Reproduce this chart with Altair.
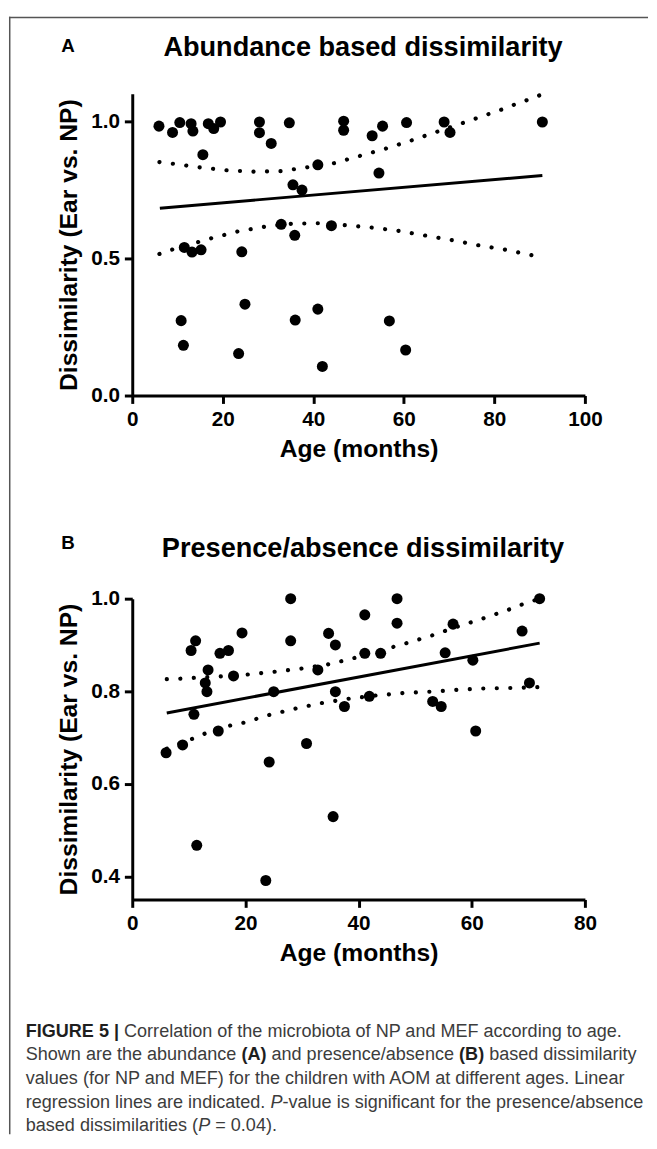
import altair as alt
import pandas as pd

# ---------------- Panel A: abundance based dissimilarity ----------------
a_age = [5.9, 8.9, 10.5, 13.0, 13.4, 15.6, 16.8, 18.0, 19.5, 28.1, 28.1, 30.7, 34.7,
         46.7, 46.7, 53.0, 55.3, 60.6, 68.9, 70.2, 90.6, 41.0, 54.5, 35.5, 37.5, 32.9,
         35.9, 44.0, 11.5, 13.2, 15.2, 24.2, 24.9, 10.8, 11.3, 23.5, 36.0, 41.0, 56.8,
         60.4, 42.0]
a_dis = [0.982, 0.959, 0.995, 0.991, 0.964, 0.878, 0.991, 0.973, 0.997, 0.997, 0.958,
         0.919, 0.994, 1.0, 0.967, 0.947, 0.982, 0.995, 0.997, 0.959, 0.997, 0.841,
         0.811, 0.768, 0.749, 0.624, 0.584, 0.619, 0.540, 0.523, 0.531, 0.524, 0.333,
         0.273, 0.183, 0.153, 0.275, 0.315, 0.272, 0.166, 0.106]
a_fit_age = [6.1, 90.6]
a_fit = [0.683, 0.802]
a_up_age = [6.0, 8.9, 14.8, 20.9, 26.8, 32.8, 38.7, 44.6, 50.4, 56.2, 61.9, 67.6, 73.3,
            78.9, 81.7, 84.5, 87.4, 90.6]
a_up = [0.851, 0.845, 0.832, 0.821, 0.816, 0.818, 0.832, 0.847, 0.874, 0.901, 0.931,
        0.963, 0.995, 1.027, 1.043, 1.061, 1.078, 1.098]
a_lo_age = [6.0, 8.8, 17.4, 23.3, 29.2, 35.1, 41.1, 47.1, 53.1, 58.9, 64.8, 70.8, 76.7,
            82.6, 88.4, 90.6]
a_lo = [0.516, 0.532, 0.573, 0.598, 0.615, 0.626, 0.628, 0.621, 0.612, 0.600, 0.583,
        0.566, 0.547, 0.531, 0.511, 0.505]

# ---------------- Panel B: presence/absence dissimilarity ----------------
b_age = [5.98, 8.9, 10.4, 11.2, 10.9, 11.4, 13.4, 12.9, 13.2, 15.2, 15.5, 17.0, 17.9,
         19.4, 24.2, 23.6, 25.0, 28.0, 28.0, 30.8, 32.8, 34.7, 35.9, 35.9, 35.5, 37.5,
         41.1, 41.1, 41.9, 43.9, 46.8, 46.8, 53.1, 54.6, 55.3, 56.7, 60.2, 60.7, 68.9,
         70.2, 72.0]
b_dis = [0.667, 0.684, 0.888, 0.909, 0.750, 0.467, 0.846, 0.818, 0.799, 0.714, 0.882,
         0.888, 0.833, 0.926, 0.647, 0.391, 0.799, 1.0, 0.909, 0.687, 0.846, 0.925,
         0.900, 0.799, 0.529, 0.767, 0.965, 0.882, 0.789, 0.882, 1.0, 0.947, 0.778,
         0.767, 0.883, 0.945, 0.867, 0.714, 0.930, 0.818, 1.0]
b_fit_age = [6.1, 72.0]
b_fit = [0.753, 0.904]
b_up_age = [6.1, 8.4, 10.9, 15.6, 20.3, 25.1, 29.9, 34.6, 39.3, 43.9, 48.5, 53.1, 57.6,
            62.2, 66.7, 69.0, 72.0]
b_up = [0.826, 0.827, 0.829, 0.832, 0.836, 0.842, 0.849, 0.858, 0.872, 0.888, 0.904,
        0.921, 0.940, 0.958, 0.977, 0.988, 1.0]
b_lo_age = [6.1, 10.4, 15.1, 19.7, 24.3, 29.0, 33.7, 38.4, 43.2, 47.9, 52.7, 57.4, 62.2,
            67.0, 72.0]
b_lo = [0.676, 0.696, 0.720, 0.732, 0.749, 0.763, 0.775, 0.784, 0.791, 0.796, 0.799,
        0.803, 0.806, 0.807, 0.809]

title_a = "Abundance based dissimilarity"
title_b = "Presence/absence dissimilarity"
x_title = "Age (months)"
y_title = "Dissimilarity (Ear vs. NP)"

FONT = "Liberation Sans"
W = 459

# Arial / Liberation Sans advance widths (1/1000 em) for caption layout
REG = {" ": 278, "(": 333, ")": 333, "-": 333, ".": 278, "/": 278, "=": 584, "|": 260,
       "A": 667, "M": 833, "N": 722, "O": 778, "P": 667, "E": 667, "F": 611, "S": 667,
       "L": 556, "C": 722, "G": 778, "I": 278, "R": 722, "U": 722,
       "a": 556, "b": 556, "c": 500, "d": 556, "e": 556, "f": 278, "g": 556, "h": 556,
       "i": 222, "j": 222, "k": 500, "l": 222, "m": 833, "n": 556, "o": 556, "p": 556,
       "q": 556, "r": 333, "s": 500, "t": 278, "u": 556, "v": 500, "w": 722, "x": 500,
       "y": 500, "z": 500}
for d in "0123456789":
    REG[d] = 556
BOLD = {" ": 278, "(": 333, ")": 333, "|": 280, "A": 722, "B": 722, "F": 611, "I": 278,
        "G": 778, "U": 722, "R": 722, "E": 667, "5": 556}
ITAL = {"P": 667}


def tw(text, table, size):
    return sum(table.get(ch, 556) for ch in text) * size / 1000.0


def one():
    return alt.Chart(pd.DataFrame({"k": [0]}))


def label_text(txt, x, y, size, weight="bold", align="left", color="black", style="normal"):
    return one().mark_text(text=txt, font=FONT, fontSize=size, fontWeight=weight,
                           fontStyle=style, align=align, baseline="alphabetic",
                           color=color).encode(x=alt.value(x), y=alt.value(y))


def panel(age, dis, fit_age, fit, up_age, up, lo_age, lo, xdom, ydom, xvals, yvals,
          title, letter, title_dy, letter_dy):
    xs = alt.Scale(domain=xdom, nice=False, zero=False)
    ys = alt.Scale(domain=ydom, nice=False, zero=False)
    x = alt.X("age:Q", scale=xs, axis=alt.Axis(values=xvals, format="d", title=x_title))
    y = alt.Y("dis:Q", scale=ys, axis=alt.Axis(values=yvals, format=".1f", title=y_title))
    pts = alt.Chart(pd.DataFrame({"age": age, "dis": dis})).mark_circle(
        size=125, color="black", opacity=1).encode(x=x, y=y)
    fitl = alt.Chart(pd.DataFrame({"age": fit_age, "dis": fit})).mark_line(
        color="black", strokeWidth=3).encode(x="age:Q", y="dis:Q")
    dots = dict(color="black", strokeWidth=4.2, strokeDash=[0.1, 13.6], strokeCap="round")
    upl = alt.Chart(pd.DataFrame({"age": up_age, "dis": up})).mark_line(**dots).encode(
        x="age:Q", y="dis:Q")
    lol = alt.Chart(pd.DataFrame({"age": lo_age, "dis": lo})).mark_line(**dots).encode(
        x="age:Q", y="dis:Q")
    ttl = label_text(title, 234, title_dy, 27.5, align="center")
    let = label_text(letter, -72, letter_dy, 19)
    return [pts, fitl, upl, lol, ttl, let]


layers_a = panel(a_age, a_dis, a_fit_age, a_fit, a_up_age, a_up, a_lo_age, a_lo,
                 [0, 100], [0, 1.1], [0, 20, 40, 60, 80, 100], [0.0, 0.5, 1.0],
                 title_a, "A", -38, -42)
# figure frame (top and left edges)
frame_top = one().mark_rule(color="#555555", strokeWidth=1.5).encode(
    x=alt.value(-125), x2=alt.value(523), y=alt.value(-77.25))
frame_left = one().mark_rule(color="#555555", strokeWidth=1.5).encode(
    x=alt.value(-124.25), y=alt.value(-78), y2=alt.value(1055))
chart_a = alt.layer(*layers_a, frame_top, frame_left).properties(width=W, height=306)

layers_b = panel(b_age, b_dis, b_fit_age, b_fit, b_up_age, b_up, b_lo_age, b_lo,
                 [0, 80], [0.35, 1.0], [0, 20, 40, 60, 80], [0.4, 0.6, 0.8, 1.0],
                 title_b, "B", -42, -50)

# caption
CS = 18.3
CX = -108
GRAY = "#3c3c3c"
DARK = "#1e1e1e"
cap = []
y1, y2, y3, y4, y5 = 444, 468, 492, 516, 540
s1a = "FIGURE 5 |"
s1b = "Correlation of the microbiota of NP and MEF according to age."
cap.append(label_text(s1a, CX, y1, CS, color=DARK))
cap.append(label_text(s1b, CX + tw(s1a + " ", BOLD, CS), y1, CS, weight="normal", color=GRAY))

s2 = ["Shown are the abundance ", "(A)", " and presence/absence ", "(B)", " based dissimilarity"]
xx = CX
for s in s2:
    bold = s.startswith("(")
    lead = tw(s[: len(s) - len(s.lstrip())], REG, CS)
    cap.append(label_text(s.strip(), xx + lead, y2, CS, weight="bold" if bold else "normal",
                          color=DARK if bold else GRAY))
    xx += tw(s, BOLD if bold else REG, CS)

s3 = "values (for NP and MEF) for the children with AOM at different ages. Linear"
cap.append(label_text(s3, CX, y3, CS, weight="normal", color=GRAY))

s4a = "regression lines are indicated. "
s4c = "-value is significant for the presence/absence"
cap.append(label_text(s4a.strip(), CX, y4, CS, weight="normal", color=GRAY))
x4 = CX + tw(s4a, REG, CS)
cap.append(label_text("P", x4, y4, CS, weight="normal", color=GRAY, style="italic"))
cap.append(label_text(s4c, x4 + tw("P", ITAL, CS), y4, CS, weight="normal", color=GRAY))

s5a = "based dissimilarities ("
s5c = " = 0.04)."
cap.append(label_text(s5a, CX, y5, CS, weight="normal", color=GRAY))
x5 = CX + tw(s5a, REG, CS)
cap.append(label_text("P", x5, y5, CS, weight="normal", color=GRAY, style="italic"))
cap.append(label_text(s5c.strip(), x5 + tw("P", ITAL, CS) + tw(" ", REG, CS), y5, CS,
                      weight="normal", color=GRAY))

chart_b = alt.layer(*layers_b, *cap).properties(width=W, height=305)

chart = alt.vconcat(chart_a, chart_b, spacing=206, bounds="flush").properties(
    padding=0
).configure_view(strokeWidth=0).configure_axis(
    domainColor="black", domainWidth=3, tickColor="black", tickWidth=3, tickSize=8,
    labelFont=FONT, labelFontSize=21, labelFontWeight="bold", labelColor="black",
    labelPadding=5, labelFlush=False, titleFont=FONT, titleFontSize=25,
    titleFontWeight="bold", titleColor="black", grid=False
).configure_axisY(titlePadding=9).configure_axisX(titlePadding=8)

chart.save("out.html", embed_options={"renderer": "svg", "actions": False})
